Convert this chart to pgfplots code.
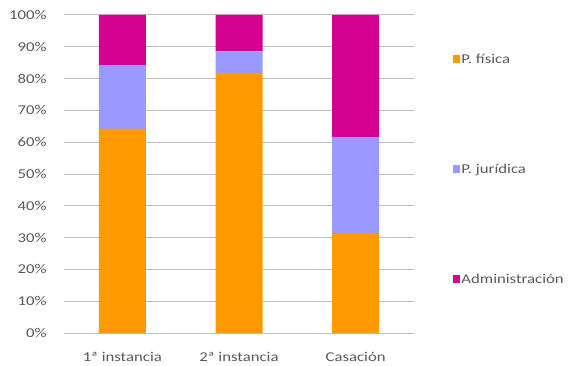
\documentclass[border=0pt]{standalone}
\usepackage{fontspec}
\setmainfont{Carlito}[FakeStretch=1.24]
\usepackage{pgfplots}
\pgfplotsset{compat=1.18}
\definecolor{fis}{HTML}{FF9900}
\definecolor{jur}{HTML}{9999FF}
\definecolor{adm}{HTML}{D4008F}
\definecolor{txt}{HTML}{595959}
\definecolor{grd}{HTML}{BFBFBF}
\begin{document}
\begin{tikzpicture}
\path (0pt,0pt) rectangle (575pt,364pt);
\begin{axis}[
  at={(64pt,31pt)}, anchor=south west, scale only axis,
  width=350pt, height=318pt,
  ybar stacked, bar width=47pt,
  xmin=-0.5, xmax=2.5, ymin=0, ymax=100,
  xtick={0,1,2}, xticklabels={1ª instancia,2ª instancia,Casación},
  ytick={0,10,...,100},
  yticklabel={\pgfmathprintnumber{\tick}\%},
  /pgf/number format/assume math mode=true,
  ymajorgrids, grid style={grd, line width=1pt},
  axis line style={draw=none},
  major tick length=0pt,
  tick label style={font=\fontsize{13.5}{15}\selectfont, text=txt},
  yticklabel style={xshift=-14pt},
  xticklabel style={yshift=-16pt},
  legend style={at={(1.102,0.515)}, anchor=west, draw=none, fill=none,
    row sep=97pt, font=\fontsize{13.5}{15}\selectfont, text=txt,
    nodes={inner sep=1pt}},
  legend cell align=left,
  legend image code/.code={\fill[#1] (0pt,-3.5pt) rectangle (7.5pt,4pt);},
]
\addplot[fill=fis, draw=none] coordinates {(0,64.2) (1,81.7) (2,31.2)};
\addlegendentry{P. física}
\addplot[fill=jur, draw=none] coordinates {(0,20.0) (1,6.9) (2,30.4)};
\addlegendentry{P. jurídica}
\addplot[fill=adm, draw=none] coordinates {(0,15.8) (1,11.4) (2,38.4)};
\addlegendentry{Administración}
\end{axis}
\end{tikzpicture}
\end{document}
